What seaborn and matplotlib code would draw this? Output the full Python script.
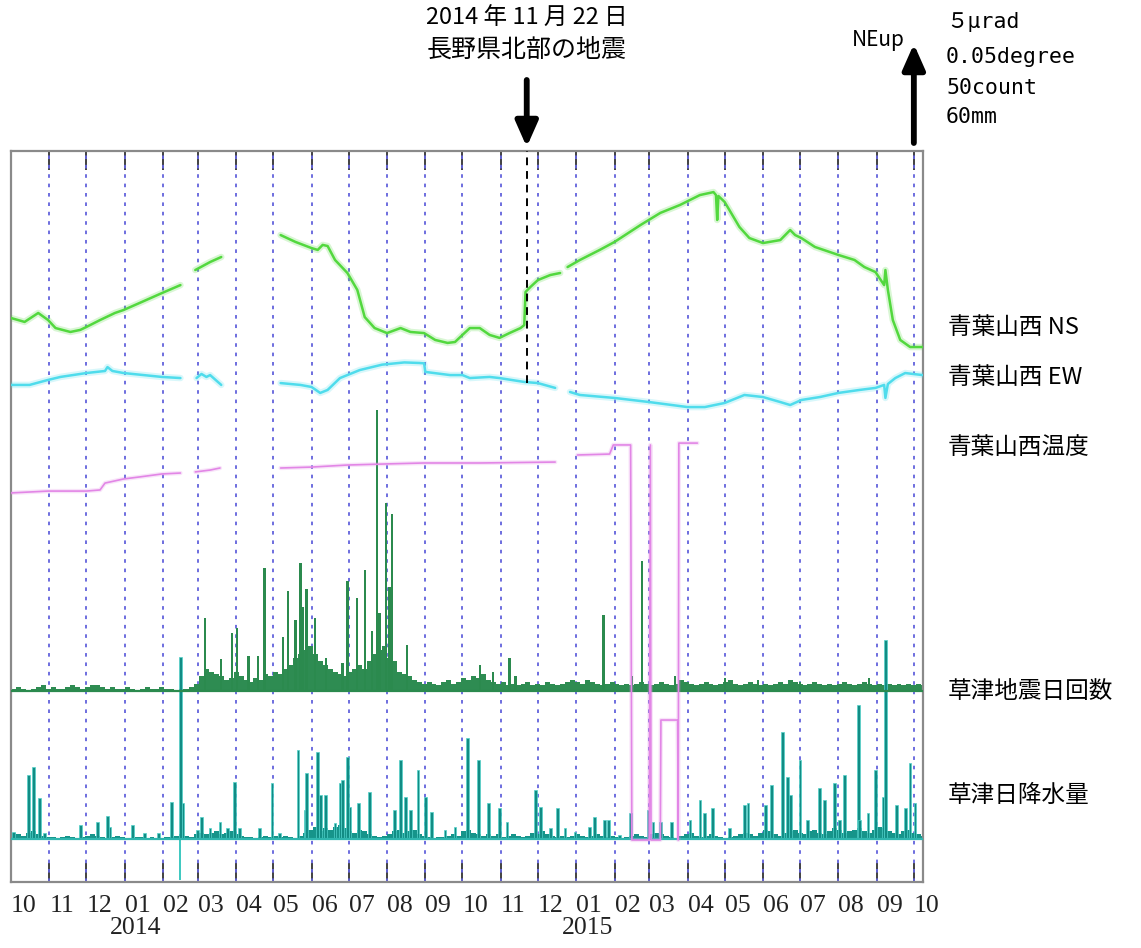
import numpy as np
import pandas as pd
import matplotlib
matplotlib.use("Agg")
import matplotlib.pyplot as plt
import matplotlib.transforms as mtransforms
import seaborn as sns

# ---------------- data ----------------
START = pd.Timestamp("2013-10-01")

# 青葉山西 NS tilt (micro-radian, arbitrary zero), day offsets from 2013-10-01
ns_days = [0, 11, 22, 30, 36, 48, 56, 61, 72, 84, 91, 104, 122, 137,
           149, 161, 170,
           218, 230, 243, 248, 252, 256, 262, 272, 280, 286, 294, 304, 315, 323, 334, 343, 353, 359,
           365, 371, 379, 387, 395, 403, 412, 415, 416, 420, 426, 436, 444,
           450, 460, 476, 488, 509, 525, 541, 557, 568, 570, 571, 572, 577, 589, 597, 608, 622, 630,
           634, 639, 650, 669, 682, 690, 699, 706, 707, 709, 713, 719, 727, 737]
ns_urad = [1.72, 1.51, 1.99, 1.61, 1.18, 0.97, 1.08, 1.24, 1.61, 1.99, 2.15, 2.53, 3.06, 3.49,
           4.30, 4.73, 5.00,
           6.18, 5.81, 5.48, 5.38, 5.65, 5.59, 4.84, 4.14, 3.23, 1.77, 1.18, 0.91, 1.18, 0.97, 0.91, 0.54, 0.38, 0.43,
           0.81, 1.18, 1.18, 0.81, 0.65, 0.91, 1.18, 1.34, 3.12, 3.39, 3.76, 4.03, 4.14,
           4.46, 4.84, 5.38, 5.81, 6.72, 7.37, 7.80, 8.33, 8.49, 8.33, 6.99, 8.28, 7.96, 6.61, 6.02, 5.75, 5.91, 6.45,
           6.18, 6.02, 5.54, 5.11, 4.84, 4.46, 4.19, 3.49, 4.30, 3.23, 1.61, 0.54, 0.16, 0.16]
ns_seg = [0] * 14 + [1] * 3 + [2] * 31 + [3] * 32

# 青葉山西 EW tilt (micro-radian)
ew_days = [0, 15, 30, 40, 61, 76, 78, 82, 91, 122, 137,
           150, 154, 158, 161, 170,
           218, 234, 243, 250, 256, 266, 282, 300, 318, 330, 334, 335, 355, 365, 371, 387, 395, 415, 426, 440,
           452, 460, 488, 516, 547, 561, 577, 593, 608, 622, 630, 639, 654, 669, 686, 699, 706, 707, 709,
           715, 723, 737]
ew_urad = [0.81, 0.81, 1.08, 1.24, 1.45, 1.56, 1.77, 1.56, 1.45, 1.24, 1.18,
           1.18, 1.40, 1.24, 1.34, 0.81,
           0.91, 0.81, 0.70, 0.38, 0.54, 1.18, 1.61, 1.90, 2.02, 1.99, 1.97, 1.51, 1.34, 1.34, 1.18, 1.24, 1.18,
           0.97, 0.91, 0.65,
           0.43, 0.27, 0.11, -0.11, -0.38, -0.38, -0.16, 0.27, 0.16, -0.11, -0.27, 0.00, 0.16, 0.38, 0.54, 0.65,
           0.81, 0.11, 0.86, 1.18, 1.45, 1.34]
ew_seg = [0] * 11 + [1] * 5 + [2] * 20 + [3] * 22

# 青葉山西温度 (degree, arbitrary zero)
temp_days = [0, 30, 61, 72, 76, 91, 104, 122, 137,
             149, 161, 169,
             218, 243, 272, 304, 334, 379, 440,
             458, 484, 487, 501, 502, 516, 517, 517.5, 525, 525.5, 539, 539.5, 540, 555]
temp_deg = [0.0038, 0.0048, 0.0048, 0.0054, 0.0091, 0.0113, 0.0124, 0.0140, 0.0145,
            0.0151, 0.0161, 0.0172,
            0.0172, 0.0177, 0.0188, 0.0194, 0.0199, 0.0199, 0.0204,
            0.0242, 0.0247, 0.0296, 0.0296, -0.1828, -0.1828, 0.0296, -0.1828, -0.1828, -0.1183, -0.1183,
            -0.1828, 0.0306, 0.0306]
temp_seg = [0] * 9 + [1] * 3 + [2] * 7 + [3] * 14

# 草津地震日回数: notable daily counts
quake_days = [157, 170, 179, 183, 192, 200, 205, 220, 224, 230, 234, 236, 239, 246, 255, 268, 272, 280,
              286, 292, 296, 298, 303, 306, 308, 320, 379, 390, 403, 408, 479, 502, 510, 537, 577, 604,
              638, 694]
quake_counts = [39, 17, 31, 34, 19, 19, 66, 29, 54, 38, 69, 45, 55, 39, 18, 15, 59, 50,
                65, 32, 151, 42, 101, 56, 95, 25, 14, 10, 18, 8, 41, 8, 70, 8, 7, 6,
                5, 7]
# typical daily counts in successive 4-day windows
quake_bg = [1, 2, 1, 0, 1, 2, 3, 1, 2, 1, 1, 2, 3, 2, 1, 2, 3, 3, 2, 1, 2, 1, 1, 2, 1, 0, 1, 2, 1, 1, 2, 1, 1, 0,
            1, 1, 2,
            4, 8, 12, 10, 9, 8, 6, 7, 10, 8, 6, 5, 7, 6, 9, 8, 10, 9, 12,
            14, 18, 20, 22, 24, 20, 16, 14, 12, 10, 9, 8, 10, 12, 14, 12, 16, 20, 22, 24, 18, 16, 10, 9, 8,
            6, 5, 4, 5, 4, 3, 5, 6, 4, 5,
            7, 6, 8, 7, 9, 6, 5, 4, 5, 3,
            4, 3, 4, 5, 3, 4, 3, 5, 4, 3,
            4, 5, 6, 5, 4, 6, 5, 4, 3, 4,
            5, 4, 3, 4, 3, 4, 5, 4, 3, 4,
            5, 4, 3, 4, 6, 5, 4, 3, 4, 5,
            4, 3, 4, 5, 6, 4, 3, 4, 5, 4,
            3, 4, 3, 4, 5, 4, 6, 5, 4, 3,
            4, 5, 4, 3, 4, 3, 4, 5, 4, 3,
            4, 5, 4, 3, 4, 3, 4, 3, 4, 3,
            4, 3, 4, 3]

# 草津日降水量 (mm): notable days
rain_days = [2, 14, 18, 23, 27, 56, 70, 78, 80, 98, 108, 119, 130, 137, 139, 151, 154, 161, 169, 175,
             181, 185, 201, 211, 217, 232, 238, 239, 248, 250, 254, 262, 266, 268, 272, 274, 281, 290, 310,
             315, 319, 323, 329, 335, 340, 351, 359, 369, 378, 386, 395, 401, 424, 428, 436, 442, 448, 456,
             468, 472, 480, 483, 492, 501, 515, 519, 525, 534, 549, 557, 561, 567, 581, 593, 596, 610, 615,
             624, 628, 630, 638, 644, 654, 658, 666, 670, 674, 685, 686, 693, 699, 705, 707, 716, 723, 727, 731]
rain_mm = [4.5, 41.3, 46.5, 26.5, 3.9, 9.0, 11.0, 14.8, 7.7, 9.0, 3.9, 3.9, 23.9, 117.4, 23.2, 5.8, 14.2,
           7.1, 11.0, 7.1, 36.8, 7.1, 7.1, 36.1, 3.9, 57.4, 18.7, 42.6, 56.1, 28.4, 28.4, 10.3, 36.1, 38.1,
           52.9, 20.6, 23.2, 30.3, 18.7, 51.0, 27.1, 18.7, 44.5, 27.1, 17.4, 5.8, 7.7, 65.2, 51.0, 23.2, 20.0,
           11.0, 31.6, 20.6, 7.1, 20.0, 7.1, 4.5, 7.7, 14.2, 12.3, 12.3, 2.6, 16.8, 18.7, 11.0, 11.0, 11.0,
           12.3, 25.2, 16.8, 20.0, 7.1, 21.9, 23.2, 21.9, 34.8, 69.0, 40.0, 28.4, 51.0, 12.3, 32.9, 25.2,
           36.1, 12.3, 41.3, 86.5, 12.3, 16.8, 44.5, 27.1, 128.4, 21.9, 20.0, 49.0, 23.2]
# typical daily rain in successive 4-day windows
rain_bg = [4, 3, 2, 4, 5, 3, 2, 1, 1, 0,
           1, 2, 1, 0, 1, 2, 3, 2, 1, 0,
           1, 2, 1, 0, 0, 1, 1, 0, 1, 0,
           0, 1, 1, 2, 3, 2, 1, 3, 4, 3,
           4, 5, 3, 4, 5, 3, 2, 1, 1, 0,
           1, 2, 1, 2, 1, 2, 1, 0, 2, 4,
           6, 8, 5, 7, 6, 8, 9, 7, 5, 4,
           6, 5, 3, 2, 1, 2, 3, 5, 6, 4,
           5, 6, 3, 2, 1, 0, 1, 1, 2, 3,
           2, 5, 6, 4, 3, 2, 3, 2, 3, 1,
           2, 3, 2, 1, 2, 4, 3, 5, 3, 2,
           1, 2, 1, 2, 3, 2, 1, 2, 3, 2,
           1, 2, 1, 0, 1, 2, 3, 2, 1, 3,
           4, 3, 2, 1, 0, 2, 3, 4, 2, 1,
           2, 3, 2, 1, 0, 1, 2, 3, 4, 3,
           2, 4, 6, 5, 3, 2, 4, 5, 6, 4,
           3, 5, 6, 4, 3, 5, 7, 6, 4, 5,
           6, 7, 5, 4, 6, 8, 7, 5, 4, 3,
           5, 6, 4, 3, 2]
rain_missing_days = [137]

month_labels = ["10", "11", "12", "01", "02", "03", "04", "05", "06", "07", "08", "09",
                "10", "11", "12", "01", "02", "03", "04", "05", "06", "07", "08", "09", "10"]
year_labels = ["2014", "2015"]
year_dates = ["2014-01-01", "2015-01-01"]
series_labels = ["青葉山西 NS", "青葉山西 EW", "青葉山西温度", "草津地震日回数", "草津日降水量"]
scale_labels = ["５μrad", "0.05degree", "50count", "60mm"]
event_date = "2014-11-22"
event_lines = ["2014 年 11 月 22 日", "長野県北部の地震"]

# ---------------- drawing ----------------
sns.set_theme(style="white")
CJK = ["Noto Sans CJK JP", "DejaVu Sans"]
plt.rcParams["font.family"] = CJK
TICKFONT = ["Liberation Serif", "DejaVu Serif"]

W, H = 1141, 948
fig = plt.figure(figsize=(W / 100, H / 100), dpi=100)
ax = fig.add_axes([11 / W, (H - 882) / H, 912 / W, 731 / H])


def to_date(days):
    return START + pd.to_timedelta(np.asarray(days, dtype=float), unit="D")


# offsets / scales for each trace (vertical layout of the stacked traces)
def y_ns(v): return 532 + 18.6 * np.asarray(v)
def y_ew(v): return 482 + 18.6 * np.asarray(v)
def y_temp(v): return 382 + 1860 * np.asarray(v)
QB, RB = 191, 43
def h_quake(v): return 1.86 * np.asarray(v, dtype=float)
def h_rain(v): return 1.55 * np.asarray(v, dtype=float)


x_end = START + pd.Timedelta(days=737.4)
ax.set_xlim(START, x_end)
ax.set_ylim(0, 731)

# monthly grid
months = pd.date_range("2013-10-01", "2015-10-01", freq="MS")
for m in months[1:]:
    ax.axvline(m, color="#6262dc", lw=1.3, ls=(0, (2.0, 3.2)), zorder=1)

# rain (bottom trace)
bg_r_days = 4 * np.arange(len(rain_bg)) + 2
ax.bar(to_date(bg_r_days), h_rain(rain_bg), width=4.0, bottom=RB, color="#16948a",
       linewidth=0, zorder=2)
ax.bar(to_date(rain_days), h_rain(rain_mm), width=2.2, bottom=RB, color="#128c84",
       edgecolor="#52d2ca", linewidth=0.5, zorder=3)
ax.vlines(to_date(rain_missing_days), 2, RB, color="#3cc8c0", lw=1.4, zorder=3)
ax.axhline(RB, color="#2fb6ae", lw=1.6, zorder=4)

# earthquake counts
bg_q_days = 4 * np.arange(len(quake_bg)) + 2
ax.bar(to_date(bg_q_days), h_quake(quake_bg), width=4.0, bottom=QB, color="#2e8c52",
       linewidth=0, zorder=2)
ax.bar(to_date(quake_days), h_quake(quake_counts), width=1.8, bottom=QB, color="#2b8a4e",
       linewidth=0, zorder=3)
ax.axhline(QB, color="#2b8a4e", lw=1.6, zorder=4)

# line traces
ns_df = pd.DataFrame({"date": to_date(ns_days), "y": y_ns(ns_urad), "seg": ns_seg})
ew_df = pd.DataFrame({"date": to_date(ew_days), "y": y_ew(ew_urad), "seg": ew_seg})
tp_df = pd.DataFrame({"date": to_date(temp_days), "y": y_temp(temp_deg), "seg": temp_seg})

for df, col, lw in [(ns_df, "#52d83e", 1.8), (ew_df, "#4fdcec", 1.8), (tp_df, "#e286e6", 1.2)]:
    sns.lineplot(data=df, x="date", y="y", units="seg", estimator=None, sort=False,
                 color=col, lw=lw * 2.6, alpha=0.22, ax=ax, legend=False, zorder=5)
    sns.lineplot(data=df, x="date", y="y", units="seg", estimator=None, sort=False,
                 color=col, lw=lw, ax=ax, legend=False, zorder=6)

# event marker
ev = pd.Timestamp(event_date)
ax.plot([ev, ev], [882 - 383, 731], color="black", lw=1.4, ls=(0, (4, 3)), zorder=7)
arrow_kw = dict(arrowstyle="-|>,head_width=0.42,head_length=0.95", lw=4.2, color="black",
                mutation_scale=16, shrinkA=0, shrinkB=0)
ax.annotate("", xy=(ev, 882 - 147), xytext=(ev, 882 - 80), xycoords="data",
            arrowprops=arrow_kw, annotation_clip=False)
up_x = pd.Timestamp("2015-10-01")
ax.annotate("", xy=(up_x, 882 - 44), xytext=(up_x, 882 - 143), xycoords="data",
            arrowprops=arrow_kw, annotation_clip=False)

# axes styling
ax.set_xlabel("")
ax.set_ylabel("")
ax.set_yticks([])
ax.set_xticks(months)
ax.set_xticklabels(month_labels, ha="left")
ax.tick_params(axis="x", direction="in", length=14, width=1.3, color="#333333", top=True,
               bottom=True, pad=9, labelsize=18.5, labelcolor="#222222")
for lab in ax.get_xticklabels():
    lab.set_fontfamily(TICKFONT)
    lab.set_verticalalignment("top")
for s in ax.spines.values():
    s.set_color("#8a8a8a")
    s.set_linewidth(1.6)
ax.grid(False)

# year labels under the January ticks
trans = mtransforms.blended_transform_factory(ax.transData, ax.transAxes)
for yl, yd in zip(year_labels, year_dates):
    ax.text(pd.Timestamp(yd) + pd.Timedelta(days=9), (882 - 928) / 731, yl, transform=trans,
            ha="center", va="center", fontsize=18.5, family=TICKFONT, color="#222222")


def ftext(x, y, s, **kw):
    fig.text(x / W, 1 - y / H, s, **kw)


ftext(527, 18, event_lines[0], ha="center", va="center", fontsize=17, color="black")
ftext(527, 50, event_lines[1], ha="center", va="center", fontsize=18, color="black")
ftext(878, 40, "NEup", ha="center", va="center", fontsize=15, color="black")

mono = ["DejaVu Sans Mono", "Noto Sans CJK JP"]
for s, yy in zip(scale_labels, [22, 57, 88, 117]):
    ftext(946, yy, s, ha="left", va="center", fontsize=15.5, family=mono, color="black")

for s, yy in zip(series_labels, [328, 377, 447, 691, 795]):
    ftext(948, yy, s, ha="left", va="center", fontsize=17, color="black")

fig.savefig("out.png", dpi=100, facecolor="white")
